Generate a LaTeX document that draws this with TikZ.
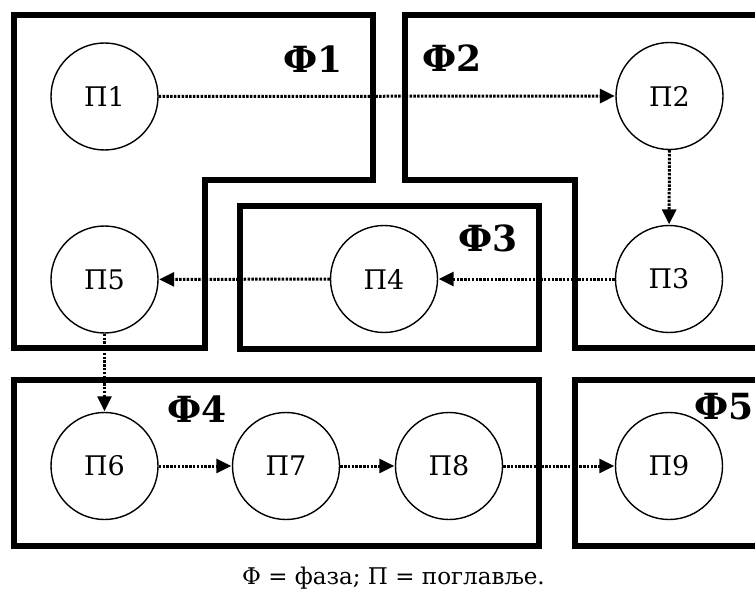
\documentclass[tikz,border=0pt]{standalone}
\usepackage{fontspec}
\setmainfont{DejaVu Serif}
\usetikzlibrary{arrows.meta}
\begin{document}
\begin{tikzpicture}[x=1pt,y=-1pt,
  phase/.style={line width=5.5pt,line join=miter},
  chap/.style={circle,draw,line width=1.4pt,minimum size=107pt,inner sep=0pt,font=\fontsize{27}{30}\selectfont},
  plabel/.style={font=\fontsize{36}{40}\selectfont\bfseries},
  flow/.style={line width=3pt,dash pattern=on 2.5pt off 1.3pt,-{Triangle[length=15pt,width=14pt]},shorten >=0.5pt}
]
\useasboundingbox (0,0) rectangle (755,596);
\begin{scope}
\clip (0,0) rectangle (755,596);
\draw[phase] (14,15) -- (373,15) -- (373,180) -- (205,180) -- (205,348) -- (14,348) -- cycle;
\draw[phase] (770,15) -- (405,15) -- (405,180) -- (575,180) -- (575,348) -- (770,348);
\draw[phase] (240,206) rectangle (539,349);
\draw[phase] (14,380) rectangle (539,546);
\draw[phase] (770,380) -- (575,380) -- (575,546) -- (770,546);

\node[plabel] (f1) at (313,59) {Ф1};
\node[plabel] (f2) at (452,58) {Ф2};
\node[plabel] (f3) at (488,238) {Ф3};
\node[plabel] (f4) at (197,409) {Ф4};
\node[plabel,anchor=east,inner sep=0pt] (f5) at (754,407) {Ф5};

\node[chap] (p1) at (104.5,96.5) {П1};
\node[chap] (p2) at (669.5,96) {П2};
\node[chap] (p3) at (669,279) {П3};
\node[chap] (p4) at (384,279) {П4};
\node[chap] (p5) at (104.5,279.5) {П5};
\node[chap] (p6) at (104.5,466) {П6};
\node[chap] (p7) at (286,466) {П7};
\node[chap] (p8) at (449,466) {П8};
\node[chap] (p9) at (669,466) {П9};

\draw[flow] (p1) -- (p2);
\draw[flow] (p2) -- (p3);
\draw[flow] (p3) -- (p4);
\draw[flow] (p4) -- (p5);
\draw[flow] (p5) -- (p6);
\draw[flow] (p6) -- (p7);
\draw[flow] (p7) -- (p8);
\draw[flow] (p8) -- (p9);

\node[font=\fontsize{23}{27}\selectfont] (cap) at (393.5,578) {Φ = фаза; Π = поглавље.};
\end{scope}
\end{tikzpicture}
\end{document}
